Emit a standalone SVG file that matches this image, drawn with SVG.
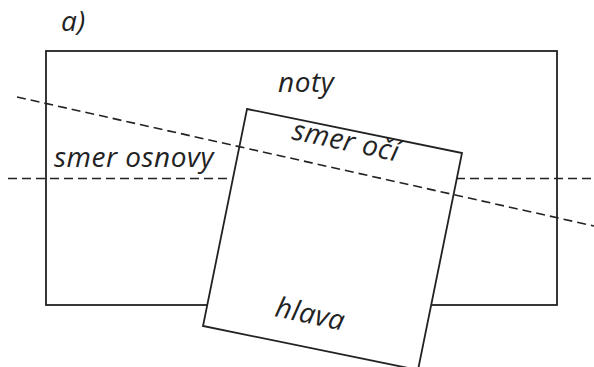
<svg xmlns="http://www.w3.org/2000/svg" width="594" height="367" viewBox="0 0 594 367">
  <style>
    .outline { fill: #ffffff; stroke: #222222; stroke-width: 1.8; }
    .dash { fill: none; stroke: #222222; stroke-width: 1.6; stroke-dasharray: 9 5; }
    .label { font-family: "Open Sans", "Noto Sans", sans-serif; font-style: italic; font-size: 28px; letter-spacing: 0.5px; fill: #222222; }
  </style>
  <rect width="594" height="367" fill="#ffffff"/>
  <text class="label" x="61" y="31">a)</text>

  <!-- sheet of music -->
  <g id="noty">
    <rect class="outline" x="46" y="51" width="511" height="254"/>
    <text class="label" x="278" y="91.5">noty</text>
  </g>

  <g id="connectors-under">
    <!-- staff direction -->
    <line class="dash" x1="8" y1="178.5" x2="594" y2="178.5"/>
  </g>

  <!-- head, tilted -->
  <g id="hlava">
    <polygon class="outline" points="247,109 462,153 418,370 203,326"/>
    <text class="label" transform="translate(274,316) rotate(12)">hlava</text>
  </g>

  <g id="connectors">
    <!-- eye direction -->
    <line class="dash" x1="17" y1="97" x2="594" y2="226"/>
  </g>

  <text class="label" x="54" y="166.5">smer osnovy</text>
  <text class="label" transform="translate(291,139) rotate(12)">smer očí</text>
</svg>
